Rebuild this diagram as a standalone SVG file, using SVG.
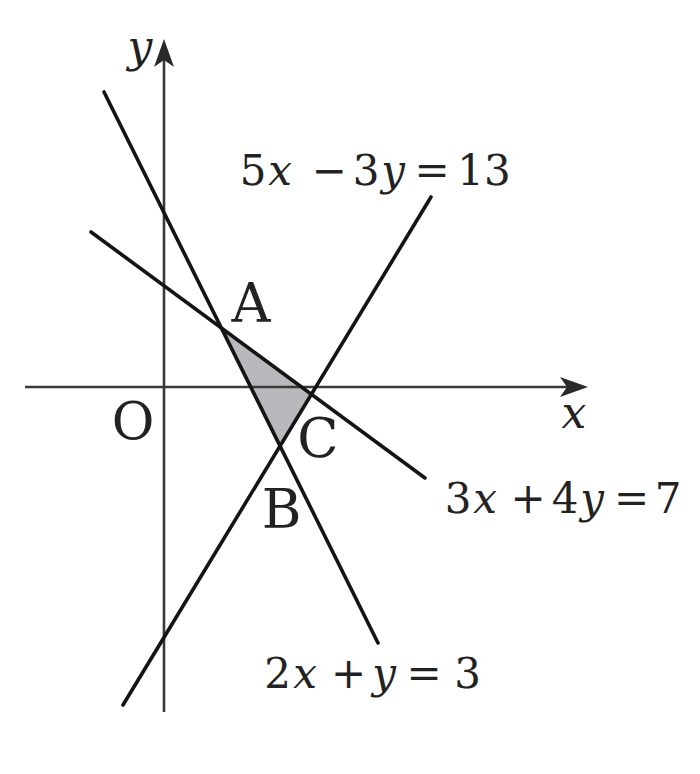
<svg xmlns="http://www.w3.org/2000/svg" width="700" height="774" viewBox="0 0 700 774">
<style>
.axis{stroke:#3a3a3a;stroke-width:2.6;fill:none}
.ln{stroke:#141414;stroke-width:3.6;fill:none;stroke-linecap:round}
.head{fill:#2a2a2a}
text{font-family:"DejaVu Serif","Liberation Serif","Times New Roman",serif;fill:#222}
.lbl{text-anchor:middle}
.eq{font-size:42px;text-anchor:middle}
.it{font-style:italic}
</style>
<rect width="700" height="774" fill="#fff"/>
<g id="region">
<polygon points="221,328 312,394 280.5,446" fill="#b9b9bd"/>
</g>
<g id="axes">
<line class="axis" x1="25" y1="387" x2="580" y2="387"/>
<path class="head" d="M588,387 L560,377 L567,387 L560,397 Z"/>
<line class="axis" x1="164" y1="712" x2="164" y2="48"/>
<path class="head" d="M164,39 L154,67 L164,60 L174,67 Z"/>
</g>
<g id="connectors">
<line id="l1" class="ln" x1="104" y1="92" x2="378" y2="643"/>
<line id="l2" class="ln" x1="91" y1="232" x2="425" y2="478"/>
<line id="l3" class="ln" x1="123" y1="705" x2="431" y2="197"/>
</g>
<g id="labels">
<text class="lbl it" x="140" y="62" font-size="44">y</text>
<text class="lbl it" x="574" y="428" font-size="44">x</text>
<text class="lbl" x="133" y="439" font-size="52">O</text>
<text class="lbl" x="251" y="322" font-size="54">A</text>
<text class="lbl" x="281.5" y="528" font-size="54">B</text>
<text class="lbl" x="318" y="457" font-size="54">C</text>
</g>
<g id="equations">
<text class="eq" y="185"><tspan x="253">5</tspan><tspan class="it" x="280">x</tspan><tspan x="329">−</tspan><tspan x="366">3</tspan><tspan class="it" x="393">y</tspan><tspan x="432">=</tspan><tspan x="484">13</tspan></text>
<text class="eq" y="513"><tspan x="458">3</tspan><tspan class="it" x="485">x</tspan><tspan x="528">+</tspan><tspan x="565">4</tspan><tspan class="it" x="592">y</tspan><tspan x="631.5">=</tspan><tspan x="668">7</tspan></text>
<text class="eq" y="688"><tspan x="277.5">2</tspan><tspan class="it" x="305">x</tspan><tspan x="348.5">+</tspan><tspan class="it" x="384">y</tspan><tspan x="424">=</tspan><tspan x="467.5">3</tspan></text>
</g>
</svg>
